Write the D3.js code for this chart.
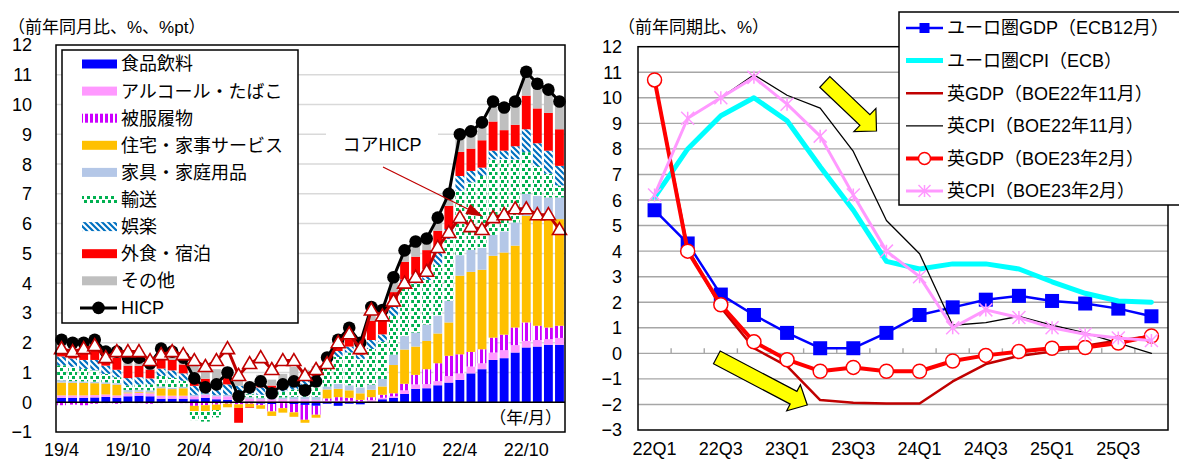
<!DOCTYPE html>
<html>
<head>
<meta charset="utf-8">
<script src="https://cdn.jsdelivr.net/npm/d3@7"></script>
<style>
  body { margin: 0; background: #fff; }
  svg text { font-family: "Liberation Sans", Arial, "Noto Sans CJK JP", sans-serif; fill: #000; }
</style>
</head>
<body>
<svg id="chart" width="1179" height="459"></svg>
<script>
// ---------- left chart data (UK CPI, contributions, %pt) ----------
const months = ["19/4","19/5","19/6","19/7","19/8","19/9","19/10","19/11","19/12",
  "20/1","20/2","20/3","20/4","20/5","20/6","20/7","20/8","20/9","20/10","20/11","20/12",
  "21/1","21/2","21/3","21/4","21/5","21/6","21/7","21/8","21/9","21/10","21/11","21/12",
  "22/1","22/2","22/3","22/4","22/5","22/6","22/7","22/8","22/9","22/10","22/11","22/12",
  "23/1"];
const monthTicks = ["19/4","19/10","20/4","20/10","21/4","21/10","22/4","22/10"];

const hicp = [2.1,2.0,2.0,2.1,1.7,1.7,1.5,1.5,1.3,
  1.8,1.7,1.5,0.8,0.5,0.6,1.0,0.2,0.5,0.7,0.3,0.6,
  0.7,0.4,0.7,1.5,2.1,2.5,2.0,3.2,3.1,4.2,5.1,5.4,
  5.5,6.2,7.0,9.0,9.1,9.4,10.1,9.9,10.1,11.1,10.7,10.5,
  10.1];
const coreHicp = [1.8,1.7,1.8,1.9,1.5,1.7,1.7,1.7,1.4,
  1.6,1.7,1.6,1.4,1.2,1.4,1.8,0.9,1.3,1.5,1.1,1.4,
  1.4,0.9,1.1,1.3,2.0,2.3,1.8,3.1,2.9,3.4,4.0,4.2,
  4.4,5.2,5.7,6.2,5.9,5.8,6.2,6.3,6.5,6.5,6.3,6.3,
  5.8];

const food = [0.15,0.15,0.15,0.16,0.18,0.15,0.20,0.22,0.20,
  0.12,0.12,0.12,0.10,0.15,0.10,0.08,-0.02,0.02,-0.05,-0.06,-0.03,
  -0.06,-0.09,-0.12,-0.05,-0.12,-0.05,-0.07,0.02,0.10,0.15,0.28,0.45,
  0.47,0.57,0.66,0.75,0.97,1.11,1.42,1.48,1.67,1.84,1.87,1.93,
  1.93];
const alcohol = [0.08,0.08,0.08,0.08,0.08,0.08,0.10,0.10,0.10,
  0.10,0.10,0.10,0.10,0.10,0.10,0.12,0.10,0.10,0.10,0.10,0.10,
  0.10,0.10,0.08,0.05,0.05,0.05,0.03,0.05,0.05,0.05,0.12,0.15,
  0.14,0.14,0.22,0.22,0.23,0.20,0.25,0.27,0.25,0.22,0.22,0.19,
  0.23];
const clothing = [-0.10,-0.08,-0.10,-0.05,-0.03,-0.05,-0.02,-0.03,-0.05,
  -0.03,-0.02,-0.03,-0.12,-0.10,-0.08,-0.05,-0.05,-0.05,-0.05,-0.25,-0.17,
  -0.28,-0.50,-0.30,0.08,0.12,0.10,0.05,0.10,0.10,0.10,0.22,0.32,
  0.50,0.60,0.68,0.64,0.49,0.47,0.50,0.52,0.59,0.62,0.48,0.39,
  0.41];
const housing = [0.43,0.42,0.42,0.40,0.36,0.36,0.03,0.03,0.03,
  0.25,0.22,0.25,-0.18,-0.20,-0.18,-0.12,-0.12,-0.12,-0.12,-0.15,-0.15,
  -0.15,-0.10,-0.10,0.30,0.28,0.25,0.22,0.25,0.28,0.95,1.15,0.95,
  0.95,1.00,1.12,2.64,2.69,2.67,2.75,2.76,2.75,3.58,3.63,3.64,
  3.58];
const furnish = [0.08,0.06,0.05,0.05,0.05,0.05,0.08,0.07,0.07,
  0.06,0.05,0.05,0.05,0.04,0.04,0.05,0.05,0.05,0.05,0.06,0.06,
  0.08,0.08,0.10,0.10,0.17,0.17,0.20,0.17,0.25,0.35,0.45,0.47,
  0.55,0.60,0.73,0.69,0.74,0.73,0.70,0.71,0.78,0.74,0.73,0.73,
  0.73];
const transport = [0.50,0.48,0.42,0.38,0.28,0.20,0.15,0.17,0.20,
  0.35,0.33,0.20,-0.30,-0.35,-0.25,0.00,0.10,0.10,0.10,0.12,0.20,
  0.25,0.30,0.45,0.60,0.90,1.10,0.95,1.20,1.25,1.30,1.60,1.65,
  1.50,1.70,2.07,2.16,2.26,2.42,2.54,2.43,2.12,1.40,1.00,0.80,
  0.40];
const recreation = [0.30,0.28,0.30,0.35,0.28,0.25,0.25,0.25,0.20,
  0.25,0.25,0.25,0.30,0.30,0.30,0.35,0.30,0.20,0.25,0.20,0.25,
  0.30,0.25,0.25,0.15,0.20,0.20,0.15,0.30,0.25,0.30,0.30,0.30,
  0.35,0.45,0.34,0.50,0.39,0.28,0.29,0.28,0.44,0.77,0.77,0.77,
  0.66];
const restaurant = [0.30,0.30,0.35,0.45,0.30,0.40,0.42,0.38,0.30,
  0.35,0.35,0.30,0.30,0.20,0.20,0.25,-0.50,-0.02,0.12,0.08,0.10,
  0.08,0.06,0.06,0.07,0.20,0.25,0.12,0.65,0.45,0.50,0.60,0.60,
  0.65,0.70,0.78,0.81,0.75,0.92,0.98,0.69,0.72,1.13,1.17,1.27,
  1.23];
const other = [0.36,0.31,0.33,0.28,0.20,0.26,0.29,0.31,0.25,
  0.35,0.30,0.26,0.55,0.36,0.37,0.32,0.34,0.22,0.30,0.20,0.24,
  0.38,0.30,0.28,0.20,0.30,0.43,0.35,0.46,0.37,0.50,0.38,0.51,
  0.39,0.44,0.40,0.59,0.58,0.60,0.67,0.76,0.78,0.80,0.83,0.78,
  0.93];

const compNames = ["食品飲料","アルコール・たばこ","被服履物","住宅・家事サービス","家具・家庭用品","輸送","娯楽","外食・宿泊","その他"];

// ---------- right chart data (outlooks, y/y %) ----------
const quarters = ["22Q1","22Q2","22Q3","22Q4","23Q1","23Q2","23Q3","23Q4",
  "24Q1","24Q2","24Q3","24Q4","25Q1","25Q2","25Q3","25Q4"];
const euroGdp  = [5.6,4.3,2.3,1.5,0.8,0.2,0.2,0.8,1.5,1.8,2.1,2.25,2.05,1.95,1.75,1.45];
const euroCpi  = [6.1,8.0,9.3,10.0,9.1,7.3,5.6,3.6,3.3,3.5,3.5,3.3,2.8,2.35,2.05,2.0];
const ukGdpNov = [10.7,4.1,1.8,0.2,-0.5,-1.83,-1.93,-1.96,-1.96,-1.1,-0.42,-0.1,0.07,0.3,0.5,0.68];
const ukCpiNov = [6.2,9.2,10.0,10.9,10.1,9.6,7.9,5.2,3.9,1.1,1.2,1.45,1.1,0.8,0.4,0.0];
const ukGdpFeb = [10.7,4.0,1.9,0.45,-0.25,-0.7,-0.55,-0.7,-0.7,-0.3,-0.08,0.07,0.2,0.23,0.4,0.68];
const ukCpiFeb = [6.2,9.2,10.0,10.8,9.75,8.5,6.2,4.0,3.0,1.0,1.7,1.4,1.0,0.75,0.6,0.5];

const svg = d3.select("#chart");
const defs = svg.append("defs");
const minus = v => v < 0 ? "\u2212" + (-v) : String(v);

/* PATTERNS */
const pCloth = defs.append("pattern").attr("id", "pCloth")
  .attr("patternUnits", "userSpaceOnUse").attr("width", 5).attr("height", 4);
pCloth.append("rect").attr("width", 5).attr("height", 4).attr("fill", "#fff");
pCloth.append("rect").attr("width", 3).attr("height", 4).attr("fill", "#cc00ff");

const pTrans = defs.append("pattern").attr("id", "pTrans")
  .attr("patternUnits", "userSpaceOnUse").attr("width", 6).attr("height", 8);
pTrans.append("rect").attr("width", 6).attr("height", 8).attr("fill", "#fff");
pTrans.append("rect").attr("x", 0).attr("y", 0).attr("width", 3).attr("height", 3).attr("fill", "#00b050");
pTrans.append("rect").attr("x", 3).attr("y", 4).attr("width", 3).attr("height", 3).attr("fill", "#00b050");

const pRec = defs.append("pattern").attr("id", "pRec")
  .attr("patternUnits", "userSpaceOnUse").attr("width", 6).attr("height", 6);
pRec.append("rect").attr("width", 6).attr("height", 6).attr("fill", "#fff");
pRec.append("path").attr("d", "M-1,-1L7,7M-1,5L1,7M5,-1L7,1")
  .attr("stroke", "#0070c0").attr("stroke-width", 2.2);

const compFill = ["#0000ff","#ff99ff","url(#pCloth)","#ffc000","#b4c7e7","url(#pTrans)","url(#pRec)","#ff0000","#bfbfbf"];

/* ===================== LEFT CHART ===================== */
const L = {left: 56, right: 565, top: 45, bottom: 432};
const xL = d3.scaleBand().domain(months).range([L.left, L.right])
  .paddingInner(0.2).paddingOuter(0.1);
const yL = d3.scaleLinear().domain([-1, 12]).range([L.bottom, L.top]);
const cx = m => xL(m) + xL.bandwidth() / 2;

// grid
svg.append("g").selectAll("line").data(d3.range(0, 12))
  .join("line")
  .attr("x1", L.left).attr("x2", L.right)
  .attr("y1", d => yL(d)).attr("y2", d => yL(d))
  .attr("stroke", "#d9d9d9").attr("stroke-width", 1.5);

// y labels
svg.append("g").selectAll("text").data(d3.range(-1, 13))
  .join("text")
  .attr("x", 32).attr("y", d => yL(d)).attr("dy", "0.36em")
  .attr("text-anchor", "end").style("font-size", "18px")
  .text(d => minus(d));

// stacked bars
const keys = ["food","alcohol","clothing","housing","furnish","transport","recreation","restaurant","other"];
const comps = [food, alcohol, clothing, housing, furnish, transport, recreation, restaurant, other];
const table = months.map((m, i) => {
  const row = {month: m};
  keys.forEach((k, j) => row[k] = comps[j][i]);
  return row;
});
const stacked = d3.stack().keys(keys).offset(d3.stackOffsetDiverging)(table);

svg.append("g").selectAll("g").data(stacked).join("g")
  .attr("fill", (d, j) => compFill[j])
  .selectAll("rect").data(d => d).join("rect")
  .attr("x", d => xL(d.data.month))
  .attr("width", xL.bandwidth())
  .attr("y", d => yL(Math.max(d[0], d[1])))
  .attr("height", d => Math.abs(yL(d[0]) - yL(d[1])));

// zero line
svg.append("line")
  .attr("x1", L.left).attr("x2", L.right)
  .attr("y1", yL(0)).attr("y2", yL(0))
  .attr("stroke", "#000").attr("stroke-width", 1.5);

// HICP line
svg.append("path").datum(hicp)
  .attr("fill", "none").attr("stroke", "#000").attr("stroke-width", 3)
  .attr("d", d3.line().x((d, i) => cx(months[i])).y(d => yL(d)));
svg.append("g").selectAll("circle").data(hicp).join("circle")
  .attr("cx", (d, i) => cx(months[i])).attr("cy", d => yL(d))
  .attr("r", 6.3).attr("fill", "#000");

// core HICP line with triangles
svg.append("path").datum(coreHicp)
  .attr("fill", "none").attr("stroke", "#c00000").attr("stroke-width", 3)
  .attr("d", d3.line().x((d, i) => cx(months[i])).y(d => yL(d)));
const tri = "M0,-7L7,5L-7,5Z";
svg.append("g").selectAll("path").data(coreHicp).join("path")
  .attr("d", tri)
  .attr("transform", (d, i) => `translate(${cx(months[i])},${yL(d)})`)
  .attr("fill", "#fff").attr("stroke", "#c00000").attr("stroke-width", 1.6);

// plot border
svg.append("rect")
  .attr("x", L.left).attr("y", L.top)
  .attr("width", L.right - L.left).attr("height", L.bottom - L.top)
  .attr("fill", "none").attr("stroke", "#000").attr("stroke-width", 1.5);

// x labels (bottom)
svg.append("g").selectAll("text").data(monthTicks).join("text")
  .attr("x", d => cx(d)).attr("y", 456)
  .attr("text-anchor", "middle").style("font-size", "18px")
  .text(d => d);

svg.append("text").attr("x", 562).attr("y", 418).attr("dy", "0.36em")
  .attr("text-anchor", "end").style("font-size", "17px").text("（年/月）");

svg.append("text").attr("x", 8).attr("y", 27).attr("dy", "0.36em")
  .style("font-size", "17px").text("（前年同月比、%、%pt）");

// core HICP annotation
svg.append("rect").attr("x", 326).attr("y", 131).attr("width", 112).attr("height", 27).attr("fill", "#fff");
svg.append("text").attr("x", 382).attr("y", 145).attr("dy", "0.36em")
  .attr("text-anchor", "middle").style("font-size", "18px").text("コアHICP");
{
  const a = [383, 167], b = [483, 216.5];
  const len = Math.hypot(b[0] - a[0], b[1] - a[1]);
  const u = [(b[0] - a[0]) / len, (b[1] - a[1]) / len], n = [-u[1], u[0]];
  const base = [b[0] - u[0] * 17, b[1] - u[1] * 17];
  svg.append("line").attr("x1", a[0]).attr("y1", a[1]).attr("x2", base[0]).attr("y2", base[1])
    .attr("stroke", "#c00000").attr("stroke-width", 1.2);
  svg.append("path")
    .attr("d", `M${b}L${base[0] + n[0] * 5.5},${base[1] + n[1] * 5.5}L${base[0] - n[0] * 5.5},${base[1] - n[1] * 5.5}Z`)
    .attr("fill", "#c00000");
}

// left legend
const lg = svg.append("g");
lg.append("rect").attr("x", 62).attr("y", 50).attr("width", 236).attr("height", 273)
  .attr("fill", "#fff").attr("stroke", "#000").attr("stroke-width", 1.5);
const rowY = k => 64 + 27.1 * k;
compNames.forEach((name, k) => {
  lg.append("rect").attr("x", 82).attr("y", rowY(k) - 4.5).attr("width", 35).attr("height", 9)
    .attr("fill", compFill[k]);
  lg.append("text").attr("x", 121).attr("y", rowY(k)).attr("dy", "0.36em")
    .style("font-size", "18px").text(name);
});
lg.append("line").attr("x1", 80).attr("x2", 117).attr("y1", rowY(9)).attr("y2", rowY(9))
  .attr("stroke", "#000").attr("stroke-width", 3);
lg.append("circle").attr("cx", 98.5).attr("cy", rowY(9)).attr("r", 6.3).attr("fill", "#000");
lg.append("text").attr("x", 121).attr("y", rowY(9)).attr("dy", "0.36em")
  .style("font-size", "18px").text("HICP");

/* ===================== RIGHT CHART ===================== */
const R = {left: 638, right: 1168, top: 46.7, bottom: 430};
const xR = d3.scaleBand().domain(quarters).range([R.left, R.right]);
const yR = d3.scaleLinear().domain([-3, 12]).range([R.bottom, R.top]);
const qx = q => xR(q) + xR.bandwidth() / 2;
const qi = idx => R.left + xR.bandwidth() * (idx + 0.5);

svg.append("g").selectAll("line").data(d3.range(-2, 12))
  .join("line")
  .attr("x1", R.left).attr("x2", R.right)
  .attr("y1", d => yR(d)).attr("y2", d => yR(d))
  .attr("stroke", "#a6a6a6").attr("stroke-width", 1.4);

// category ticks on zero axis
svg.append("g").selectAll("line").data(quarters.slice(1))
  .join("line")
  .attr("x1", d => xR(d)).attr("x2", d => xR(d))
  .attr("y1", yR(0) - 5).attr("y2", yR(0))
  .attr("stroke", "#a6a6a6").attr("stroke-width", 1.4);

svg.append("g").selectAll("text").data(d3.range(-3, 13))
  .join("text")
  .attr("x", 622).attr("y", d => yR(d)).attr("dy", "0.36em")
  .attr("text-anchor", "end").style("font-size", "18px")
  .text(d => minus(d));

svg.append("g").selectAll("text").data(quarters.filter((q, i) => i % 2 === 0))
  .join("text")
  .attr("x", d => qx(d)).attr("y", 455)
  .attr("text-anchor", "middle").style("font-size", "18px")
  .text(d => d);

svg.append("text").attr("x", 618).attr("y", 27).attr("dy", "0.36em")
  .style("font-size", "17px").text("（前年同期比、%）");

const lineR = d3.line().x((d, i) => qx(quarters[i])).y(d => yR(d));
const series = [
  {name: "ユーロ圏GDP（ECB12月）", values: euroGdp, color: "#0000ff", width: 2.5, marker: "square"},
  {name: "ユーロ圏CPI（ECB）", values: euroCpi, color: "#00ffff", width: 5, marker: null},
  {name: "英GDP（BOE22年11月）", values: ukGdpNov, color: "#c00000", width: 2.5, marker: null},
  {name: "英CPI（BOE22年11月）", values: ukCpiNov, color: "#000000", width: 1.3, marker: null},
  {name: "英GDP（BOE23年2月）", values: ukGdpFeb, color: "#ff0000", width: 4, marker: "circle"},
  {name: "英CPI（BOE23年2月）", values: ukCpiFeb, color: "#ff99ff", width: 3, marker: "star"}
];

function drawMarker(g, type, x, y, color, s) {
  if (type === "square") {
    g.append("rect").attr("x", x - s / 2).attr("y", y - s / 2).attr("width", s).attr("height", s)
      .attr("fill", color);
  } else if (type === "circle") {
    g.append("circle").attr("cx", x).attr("cy", y).attr("r", s / 2)
      .attr("fill", "#fff").attr("stroke", color).attr("stroke-width", 1.5);
  } else if (type === "star") {
    const h = s / 2;
    g.append("path")
      .attr("d", `M${x - h},${y - h}L${x + h},${y + h}M${x - h},${y + h}L${x + h},${y - h}M${x},${y - h}L${x},${y + h}`)
      .attr("stroke", color).attr("stroke-width", 1.5).attr("fill", "none");
  }
}

series.forEach(s => {
  const g = svg.append("g");
  g.append("path").datum(s.values)
    .attr("fill", "none").attr("stroke", s.color).attr("stroke-width", s.width)
    .attr("stroke-linejoin", "round").attr("stroke-linecap", "round")
    .attr("d", lineR);
  if (s.marker) {
    const size = s.marker === "square" ? 14 : s.marker === "circle" ? 14 : 13;
    s.values.forEach((v, i) => drawMarker(g, s.marker, qx(quarters[i]), yR(v), s.color, size));
  }
});

svg.append("rect")
  .attr("x", R.left).attr("y", R.top)
  .attr("width", R.right - R.left).attr("height", R.bottom - R.top)
  .attr("fill", "none").attr("stroke", "#000").attr("stroke-width", 1.5);

// yellow arrows (annotation shapes)
function fatArrow(t, p, w, hl, hw) {
  const len = Math.hypot(p[0] - t[0], p[1] - t[1]);
  const u = [(p[0] - t[0]) / len, (p[1] - t[1]) / len], n = [-u[1], u[0]];
  const b = [p[0] - u[0] * hl, p[1] - u[1] * hl];
  const pt = (o, k) => [o[0] + n[0] * k, o[1] + n[1] * k];
  const pts = [pt(t, w), pt(b, w), pt(b, hw), p, pt(b, -hw), pt(b, -w), pt(t, -w)];
  svg.append("path").attr("d", "M" + pts.join("L") + "Z")
    .attr("fill", "#ffff00").attr("stroke", "#000").attr("stroke-width", 1.2);
}
fatArrow([qi(5.14), yR(10.62)], [qi(6.7), yR(8.7)], 7.3, 16, 16);
fatArrow([qi(1.88), yR(-0.16)], [qi(4.61), yR(-2.02)], 7.2, 15.5, 14.7);

// right legend
const rg = svg.append("g");
rg.append("rect").attr("x", 899).attr("y", 12).attr("width", 290).attr("height", 193)
  .attr("fill", "#fff").attr("stroke", "#000").attr("stroke-width", 1.5);
series.forEach((s, k) => {
  const y = 28 + 32.6 * k;
  rg.append("line").attr("x1", 906).attr("x2", 943).attr("y1", y).attr("y2", y)
    .attr("stroke", s.color).attr("stroke-width", s.width);
  if (s.marker) drawMarker(rg, s.marker, 924.5, y, s.color, s.marker === "square" ? 10 : 12);
  rg.append("text").attr("x", 947).attr("y", y).attr("dy", "0.36em")
    .style("font-size", "18px").text(s.name);
});
</script>
</body>
</html>
